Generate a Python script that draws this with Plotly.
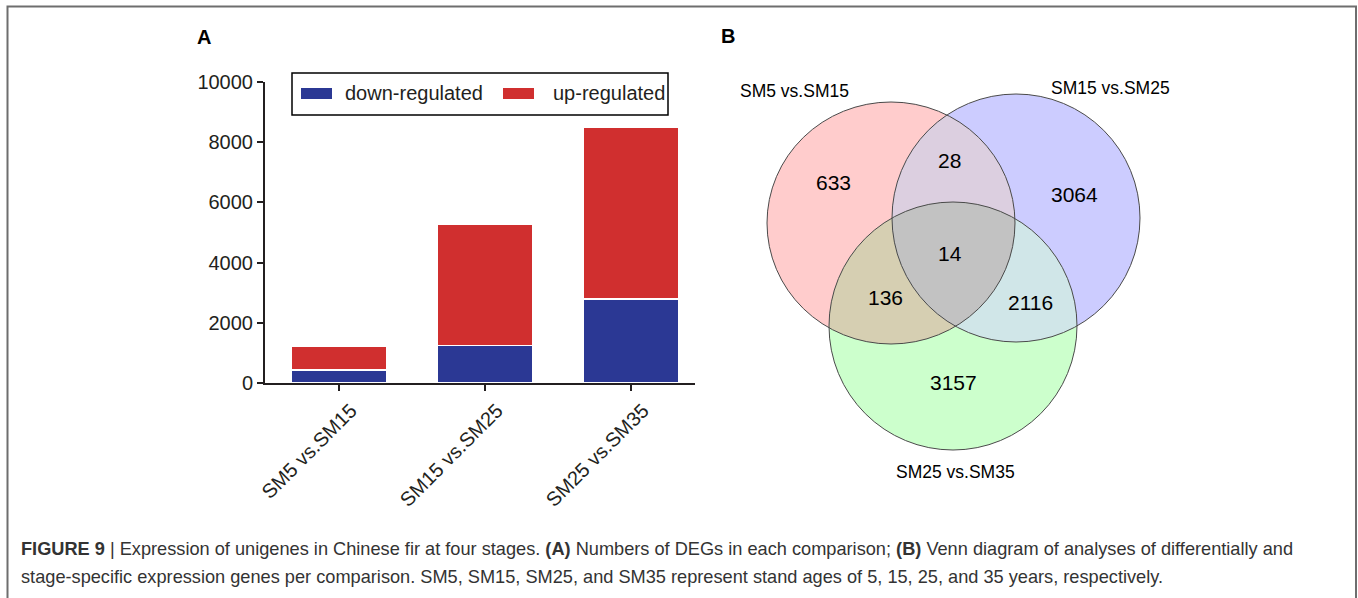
import math
import plotly.graph_objects as go

# ---- Panel A data: DEG counts per comparison ----
comparisons = ["SM5 vs.SM15", "SM15 vs.SM25", "SM25 vs.SM35"]
down_regulated = [430, 1240, 2790]
up_regulated = [800, 4040, 5700]
series_names = ["down-regulated", "up-regulated"]
series_colors = ["#2B3894", "#D02F2F"]
y_ticks = [0, 2000, 4000, 6000, 8000, 10000]

# ---- Panel B data: Venn region counts ----
venn_sets = ["SM5 vs.SM15", "SM15 vs.SM25", "SM25 vs.SM35"]
venn_regions = ["1", "2", "3", "12", "13", "23", "123"]
venn_counts = [633, 3064, 3157, 28, 136, 2116, 14]

W, H = 1358, 598
FONT = "Liberation Sans, Arial, Helvetica, sans-serif"
INK = "#231F20"


def px(x):
    return x / W


def py(y):
    return 1 - y / H


fig = go.Figure()

# stacked bars
for name, vals, col in zip(series_names, [down_regulated, up_regulated], series_colors):
    fig.add_trace(go.Bar(
        x=list(range(len(comparisons))), y=vals, name=name,
        marker=dict(color=col, line=dict(color="white", width=1.5)),
        width=0.66, showlegend=False,
    ))

fig.update_layout(
    barmode="stack",
    width=W, height=H,
    margin=dict(l=0, r=0, t=0, b=0, autoexpand=False),
    showlegend=False,
    paper_bgcolor="white", plot_bgcolor="white",
    font=dict(family=FONT, color=INK),
    xaxis=dict(
        domain=[px(265), px(695)], range=[-0.507, 2.438],
        tickmode="array", tickvals=list(range(len(comparisons))), ticktext=comparisons,
        tickangle=-45, tickfont=dict(size=20, color=INK), ticklabelshift=12,
        ticks="outside", ticklen=6, tickwidth=2, tickcolor=INK,
        showline=True, linecolor=INK, linewidth=2, showgrid=False, zeroline=False,
        fixedrange=True, automargin=False,
    ),
    yaxis=dict(
        domain=[py(383), py(82)], range=[0, 10000],
        tickmode="array", tickvals=y_ticks, ticktext=[str(v) for v in y_ticks],
        tickfont=dict(size=20, color=INK),
        ticks="outside", ticklen=6, tickwidth=2, tickcolor=INK,
        showline=True, linecolor=INK, linewidth=2, showgrid=False, zeroline=False,
        fixedrange=True, automargin=False,
    ),
)

shapes = []
annotations = []

# custom legend box with wide swatches
shapes.append(dict(type="rect", xref="paper", yref="paper",
                   x0=px(292), x1=px(668), y0=py(115), y1=py(73),
                   line=dict(color="black", width=1.5), fillcolor="rgba(0,0,0,0)"))
legend_swatch_x = [301, 503]
legend_text_x = [343, 551]
for name, col, sx, tx in zip(series_names, series_colors, legend_swatch_x, legend_text_x):
    shapes.append(dict(type="rect", xref="paper", yref="paper",
                       x0=px(sx), x1=px(sx + 31), y0=py(99), y1=py(88),
                       line=dict(width=0), fillcolor=col))
    annotations.append(dict(x=px(tx), y=py(93), xref="paper", yref="paper",
                            text=name, showarrow=False, xanchor="left", yanchor="middle",
                            font=dict(size=20, color=INK)))

# panel letters
annotations.append(dict(x=px(195), y=py(37), xref="paper", yref="paper", text="<b>A</b>",
                        showarrow=False, xanchor="left", yanchor="middle",
                        font=dict(size=20, color="black")))
annotations.append(dict(x=px(719), y=py(36), xref="paper", yref="paper", text="<b>B</b>",
                        showarrow=False, xanchor="left", yanchor="middle",
                        font=dict(size=20, color="black")))

# ---- Venn diagram geometry (pixel space) ----
ellipses = [
    (891, 223, 124, 121),   # pink
    (1016, 218, 124, 124),  # blue
    (953, 326, 124, 124),   # green
]
base_fill = ["#FFCCCC", "#CCCCFF", "#CCFFCC"]
overlap_fill = {"12": "#DCCFE0", "13": "#D6CFB2", "23": "#D0E6E8", "123": "#C2C2C2"}


def ellipse_points(e, n=1440):
    cx, cy, rx, ry = e
    return [(cx + rx * math.cos(2 * math.pi * k / n), cy + ry * math.sin(2 * math.pi * k / n))
            for k in range(n)]


def inside(p, e):
    cx, cy, rx, ry = e
    return ((p[0] - cx) / rx) ** 2 + ((p[1] - cy) / ry) ** 2 <= 1.0 + 1e-9


def region_path(idx):
    pts = []
    for i in idx:
        for p in ellipse_points(ellipses[i]):
            if all(inside(p, ellipses[j]) for j in idx if j != i):
                pts.append(p)
    mx = sum(p[0] for p in pts) / len(pts)
    my = sum(p[1] for p in pts) / len(pts)
    pts.sort(key=lambda p: math.atan2(p[1] - my, p[0] - mx))
    d = "M " + " L ".join(f"{px(x):.6f},{py(y):.6f}" for x, y in pts) + " Z"
    return d


def ellipse_rect(e):
    cx, cy, rx, ry = e
    return dict(x0=px(cx - rx), x1=px(cx + rx), y0=py(cy + ry), y1=py(cy - ry))


for e, col in zip(ellipses, base_fill):
    shapes.append(dict(type="circle", xref="paper", yref="paper", **ellipse_rect(e),
                       fillcolor=col, line=dict(width=0), layer="above"))
for key in ["12", "13", "23", "123"]:
    idx = [int(c) - 1 for c in key]
    shapes.append(dict(type="path", xref="paper", yref="paper", path=region_path(idx),
                       fillcolor=overlap_fill[key], line=dict(width=0), layer="above"))
for e in ellipses:
    shapes.append(dict(type="circle", xref="paper", yref="paper", **ellipse_rect(e),
                       fillcolor="rgba(0,0,0,0)", line=dict(color="#4A4A4A", width=1),
                       layer="above"))

# Venn labels
set_label_pos = [(794, 91), (1110, 88), (955, 472)]
for name, (x, y) in zip(venn_sets, set_label_pos):
    annotations.append(dict(x=px(x), y=py(y), xref="paper", yref="paper", text=name,
                            showarrow=False, xanchor="center", yanchor="middle",
                            font=dict(size=17.5, color="black")))
count_pos = {"1": (833, 182), "2": (1074, 194), "3": (954, 382), "12": (950, 161),
             "13": (885, 297), "23": (1030, 302), "123": (950, 253)}
for key, cnt in zip(venn_regions, venn_counts):
    x, y = count_pos[key]
    annotations.append(dict(x=px(x), y=py(y), xref="paper", yref="paper", text=str(cnt),
                            showarrow=False, xanchor="center", yanchor="middle",
                            font=dict(size=21, color="black")))

# caption
cap1 = ("<b>FIGURE 9</b> | Expression of unigenes in Chinese fir at four stages. <b>(A)</b> "
        "Numbers of DEGs in each comparison; <b>(B)</b> Venn diagram of analyses of "
        "differentially and")
cap2 = ("stage-specific expression genes per comparison. SM5, SM15, SM25, and SM35 represent "
        "stand ages of 5, 15, 25, and 35 years, respectively.")
for txt, y in [(cap1, 549), (cap2, 577)]:
    annotations.append(dict(x=px(19), y=py(y), xref="paper", yref="paper", text=txt,
                            showarrow=False, xanchor="left", yanchor="middle",
                            font=dict(size=18.2, color="#333333")))

# outer frame
shapes.append(dict(type="rect", xref="paper", yref="paper",
                   x0=px(7.5), x1=px(1356), y0=py(640), y1=py(6.5),
                   line=dict(color="#6E6E6E", width=2), fillcolor="rgba(0,0,0,0)"))

fig.update_layout(shapes=shapes, annotations=annotations)
fig.write_html("out.html")
